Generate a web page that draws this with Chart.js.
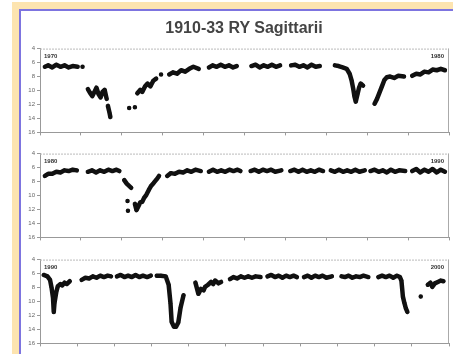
<!DOCTYPE html>
<html>
<head>
<meta charset="utf-8">
<script src="https://cdn.jsdelivr.net/npm/chart.js@4"></script>
<style>
  body { margin: 0; background: #fff; width: 453px; height: 354px; overflow: hidden; position: relative; }
  #frame { position: absolute; left: 12px; top: 2px; right: 0; bottom: 0; background: #fde4b0; }
  #inner { position: absolute; left: 7px; top: 7px; right: 0; bottom: 0; background: #fff;
           border-left: 2px solid #7d74e0; border-top: 2px solid #7d74e0; }
  #wrap { position: absolute; left: 0; top: 0; width: 453px; height: 354px; filter: blur(0.6px); }
  #title { position: absolute; left: 0; width: 488px; top: 19px; text-align: center;
           font: bold 16px/18px "Liberation Sans", Arial, sans-serif; color: #444; }
  canvas { position: absolute; left: 21px; }
</style>
</head>
<body>
<div id="frame"><div id="inner"></div></div>
<div id="wrap">
  <div id="title">1910-33 RY Sagittarii</div>
  <canvas id="panel1" width="432" height="95" style="top:43px"></canvas>
  <canvas id="panel2" width="432" height="95" style="top:148px"></canvas>
  <canvas id="panel3" width="432" height="95" style="top:254px"></canvas>
</div>
<script>
// magnitude scale, shared by the three panels
var magTicks = [4, 6, 8, 10, 12, 14, 16];

// [year, magnitude], null = seasonal gap
var curve1 = [
  [1970.12,6.6],[1970.2,6.4],[1970.3,6.7],[1970.4,6.3],[1970.5,6.6],[1970.6,6.4],[1970.7,6.7],[1970.8,6.5],[1970.92,6.6], null,
  [1971.04,6.6], null,
  [1971.17,9.8],[1971.22,10.3],[1971.28,10.8],[1971.33,10.2],[1971.38,9.6],[1971.43,10.5],[1971.48,11.0],[1971.53,10.2],[1971.58,9.9],[1971.63,11.2], null,
  [1971.66,12.2],[1971.7,13.2],[1971.72,13.8], null,
  [1972.18,12.5], null, [1972.32,12.4], null,
  [1972.38,10.4],[1972.45,9.9],[1972.5,10.2],[1972.57,9.4],[1972.63,9.0],[1972.7,9.4],[1972.77,8.6],[1972.84,8.3], null,
  [1972.96,7.7], null,
  [1973.16,7.7],[1973.25,7.4],[1973.35,7.6],[1973.45,7.1],[1973.55,7.3],[1973.65,6.9],[1973.75,6.6],[1973.88,6.9], null,
  [1974.13,6.7],[1974.22,6.4],[1974.32,6.6],[1974.42,6.3],[1974.52,6.6],[1974.62,6.4],[1974.72,6.7],[1974.81,6.5], null,
  [1975.17,6.5],[1975.27,6.3],[1975.37,6.7],[1975.47,6.4],[1975.57,6.6],[1975.67,6.3],[1975.77,6.6],[1975.87,6.4], null,
  [1976.14,6.4],[1976.24,6.3],[1976.34,6.6],[1976.44,6.4],[1976.54,6.7],[1976.64,6.3],[1976.74,6.6],[1976.84,6.5], null,
  [1977.21,6.4],[1977.3,6.5],[1977.4,6.7],[1977.5,6.9],[1977.57,7.6],[1977.62,8.6],[1977.66,9.8],[1977.69,10.9],[1977.72,11.6],[1977.76,10.6],[1977.8,9.6],[1977.84,9.0],[1977.9,9.3], null,
  [1978.18,11.9],[1978.24,11.2],[1978.3,10.3],[1978.36,9.4],[1978.42,8.5],[1978.48,8.1],[1978.56,8.0],[1978.66,8.2],[1978.76,7.9],[1978.9,8.0], null,
  [1979.1,7.9],[1979.2,7.6],[1979.3,7.7],[1979.4,7.3],[1979.5,7.4],[1979.6,7.0],[1979.7,7.1],[1979.8,6.9],[1979.9,7.1]
];

var curve2 = [
  [1980.12,7.2],[1980.2,6.9],[1980.3,6.9],[1980.4,6.6],[1980.5,6.7],[1980.6,6.4],[1980.7,6.5],[1980.8,6.3],[1980.9,6.4], null,
  [1981.17,6.6],[1981.27,6.4],[1981.37,6.7],[1981.47,6.4],[1981.57,6.6],[1981.67,6.3],[1981.77,6.5],[1981.87,6.3],[1981.94,6.5], null,
  [1982.06,7.8],[1982.12,8.3],[1982.23,8.9], null,
  [1982.14,10.8], null, [1982.15,12.2], null,
  [1982.32,11.2],[1982.36,12.1],[1982.4,11.6],[1982.45,11.0],[1982.5,10.9],[1982.55,10.3],[1982.6,9.9],[1982.66,9.2],[1982.72,8.6],[1982.78,8.2],[1982.85,7.7],[1982.91,7.2], null,
  [1983.11,7.2],[1983.2,6.8],[1983.3,6.9],[1983.4,6.6],[1983.5,6.7],[1983.6,6.4],[1983.7,6.6],[1983.8,6.3],[1983.93,6.5], null,
  [1984.13,6.6],[1984.23,6.3],[1984.33,6.6],[1984.43,6.4],[1984.53,6.6],[1984.63,6.3],[1984.73,6.5],[1984.83,6.3],[1984.9,6.5], null,
  [1985.15,6.5],[1985.25,6.3],[1985.35,6.6],[1985.45,6.3],[1985.55,6.5],[1985.65,6.3],[1985.75,6.6],[1985.9,6.4], null,
  [1986.12,6.5],[1986.22,6.3],[1986.32,6.6],[1986.42,6.3],[1986.52,6.6],[1986.62,6.4],[1986.72,6.6],[1986.82,6.3],[1986.92,6.5], null,
  [1987.11,6.4],[1987.21,6.6],[1987.31,6.3],[1987.41,6.6],[1987.51,6.4],[1987.61,6.6],[1987.71,6.3],[1987.81,6.6],[1987.94,6.4], null,
  [1988.08,6.5],[1988.18,6.3],[1988.28,6.6],[1988.38,6.4],[1988.48,6.7],[1988.58,6.3],[1988.68,6.6],[1988.78,6.4],[1988.93,6.5], null,
  [1989.1,6.5],[1989.2,6.2],[1989.3,6.7],[1989.4,6.3],[1989.5,6.6],[1989.6,6.2],[1989.7,6.7],[1989.8,6.3],[1989.9,6.6]
];

var curve3 = [
  [1990.1,6.2],[1990.2,6.4],[1990.27,6.9],[1990.31,8.0],[1990.35,9.5],[1990.37,11.5],[1990.39,10.2],[1990.44,8.6],[1990.48,7.8],[1990.55,7.5],[1990.6,7.7],[1990.66,7.3],[1990.72,7.5],[1990.8,7.1], null,
  [1991.12,6.9],[1991.22,6.6],[1991.32,6.7],[1991.42,6.4],[1991.52,6.6],[1991.62,6.3],[1991.72,6.5],[1991.82,6.3],[1991.91,6.4], null,
  [1992.07,6.4],[1992.17,6.2],[1992.27,6.5],[1992.37,6.3],[1992.47,6.5],[1992.57,6.2],[1992.67,6.5],[1992.77,6.3],[1992.88,6.5],[1992.98,6.3], null,
  [1993.14,6.3],[1993.25,6.3],[1993.38,6.4],[1993.46,7.6],[1993.51,10.3],[1993.54,12.9],[1993.6,13.6],[1993.66,13.6],[1993.72,13.0],[1993.78,10.9],[1993.86,9.1], null,
  [1994.18,7.3],[1994.26,8.9],[1994.33,8.2],[1994.4,8.4],[1994.44,7.9],[1994.52,7.6],[1994.6,7.2],[1994.66,7.5],[1994.71,7.0],[1994.8,7.4],[1994.87,7.2], null,
  [1995.11,6.8],[1995.2,6.5],[1995.3,6.7],[1995.4,6.4],[1995.5,6.6],[1995.6,6.4],[1995.7,6.6],[1995.8,6.4],[1995.93,6.5], null,
  [1996.12,6.4],[1996.22,6.2],[1996.32,6.5],[1996.42,6.3],[1996.52,6.6],[1996.62,6.3],[1996.72,6.5],[1996.82,6.3],[1996.91,6.5], null,
  [1997.1,6.5],[1997.2,6.3],[1997.3,6.6],[1997.4,6.3],[1997.5,6.5],[1997.6,6.3],[1997.7,6.6],[1997.85,6.4], null,
  [1998.11,6.4],[1998.2,6.5],[1998.3,6.3],[1998.4,6.6],[1998.5,6.4],[1998.6,6.5],[1998.7,6.3],[1998.83,6.5], null,
  [1999.1,6.5],[1999.2,6.3],[1999.3,6.5],[1999.4,6.3],[1999.5,6.6],[1999.6,6.3],[1999.68,6.5],[1999.72,7.0],[1999.76,9.3],[1999.8,10.2],[1999.84,11.0],[1999.88,11.5], null,
  [2000.24,9.3], null,
  [2000.43,7.6],[2000.5,7.3],[2000.55,7.9],[2000.62,7.4],[2000.7,7.2],[2000.78,7.0],[2000.85,7.1]
];

// x range and corner labels of each panel
var panelStart = [1970, 1980, 1990];
var panelEnd = [1980, 1990, 2001];
var cornerLeft = ["1970", "1980", "1990"];
var cornerRight = ["1980", "1990", "2000"];

function toPoints(list) {
  var out = [];
  var lastX = 0;
  for (var i = 0; i < list.length; i++) {
    if (list[i] === null) {
      out.push({x: lastX, y: null});
    } else {
      lastX = list[i][0];
      out.push({x: list[i][0], y: list[i][1]});
    }
  }
  return out;
}

// grey box round the plot area and the year labels in its corners
var framePlugin = {
  id: 'frame',
  afterDraw: function(chart, args, opts) {
    var ctx = chart.ctx;
    var a = chart.chartArea;
    ctx.save();
    ctx.lineWidth = 1;
    ctx.strokeStyle = '#bbb';
    ctx.setLineDash([2, 1]);
    ctx.beginPath();
    ctx.moveTo(a.left, a.top + 0.5);
    ctx.lineTo(a.right, a.top + 0.5);
    ctx.stroke();
    ctx.setLineDash([]);
    ctx.strokeStyle = '#aaa';
    ctx.beginPath();
    ctx.moveTo(a.right - 0.5, a.top);
    ctx.lineTo(a.right - 0.5, a.bottom);
    ctx.stroke();
    ctx.fillStyle = '#333';
    ctx.font = 'bold 6px "Liberation Sans", Arial, sans-serif';
    ctx.textBaseline = 'top';
    ctx.textAlign = 'left';
    ctx.fillText(opts.left, a.left + 4, a.top + 5);
    ctx.textAlign = 'right';
    ctx.fillText(opts.right, a.right - 5, a.top + 5);
    ctx.restore();
  }
};

function setupPanel(id, curve, n) {
  var el = document.getElementById(id).getContext('2d');
  new Chart(el, {
    type: 'line',
    data: {
      datasets: [{
        data: toPoints(curve),
        borderColor: '#111',
        borderWidth: 4.5,
        borderJoinStyle: 'round',
        borderCapStyle: 'round',
        pointRadius: 1.8,
        pointBorderWidth: 0,
        pointBackgroundColor: '#111',
        tension: 0,
        spanGaps: false
      }]
    },
    options: {
      responsive: false,
      animation: false,
      devicePixelRatio: 1,
      layout: { padding: { top: 2, right: 1, left: 0, bottom: 0 } },
      plugins: {
        legend: { display: false },
        tooltip: { enabled: false },
        frame: { left: cornerLeft[n], right: cornerRight[n] }
      },
      scales: {
        x: {
          type: 'linear',
          min: panelStart[n],
          max: panelEnd[n],
          ticks: { display: false, stepSize: 1 },
          grid: { drawOnChartArea: false, drawTicks: true, tickLength: 3, color: '#999' },
          border: { color: '#999' },
          afterFit: function(s) { s.height = 4; }
        },
        y: {
          min: 4,
          max: 16,
          reverse: true,
          afterBuildTicks: function(s) { s.ticks = magTicks.map(function(v) { return {value: v}; }); },
          ticks: {
            padding: 2,
            color: '#666',
            font: { size: 6, family: '"Liberation Sans", Arial, sans-serif' }
          },
          grid: { drawOnChartArea: false, drawTicks: true, tickLength: 3, color: '#999' },
          border: { color: '#999' },
          afterFit: function(s) { s.width = 19; }
        }
      }
    },
    plugins: [framePlugin]
  });
}

setupPanel('panel1', curve1, 0);
setupPanel('panel2', curve2, 1);
setupPanel('panel3', curve3, 2);
</script>
</body>
</html>
